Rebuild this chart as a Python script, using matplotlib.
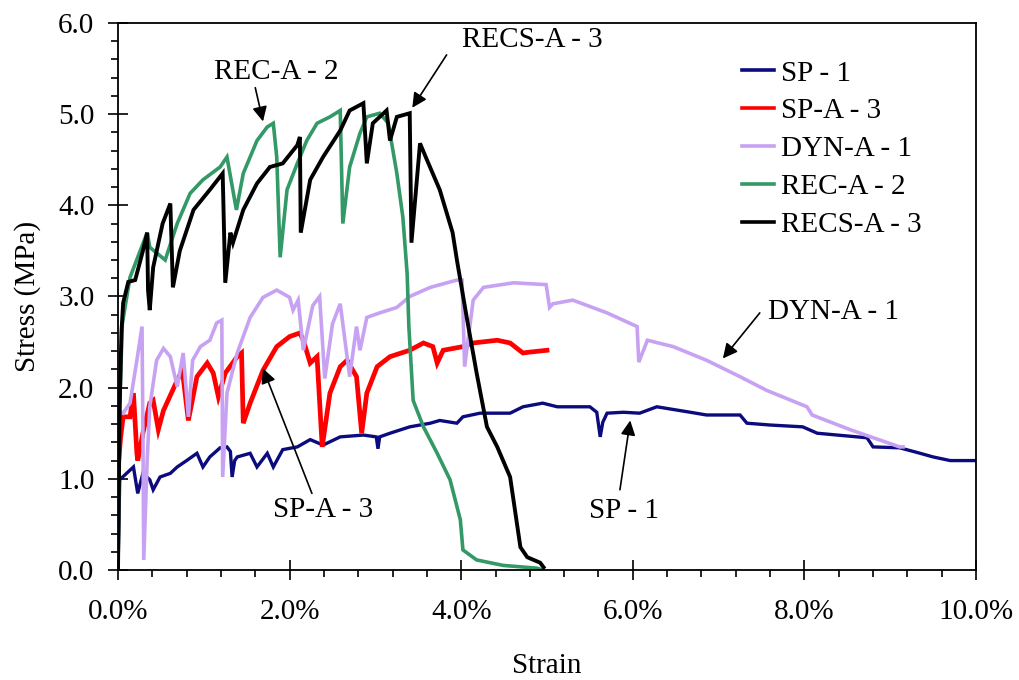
import matplotlib
matplotlib.use("Agg")
import matplotlib.pyplot as plt
from matplotlib.ticker import MultipleLocator, FuncFormatter

plt.rcParams['font.family'] = ['Liberation Serif', 'DejaVu Serif']

# ---------------- data (strain in %, stress in MPa) ----------------
sp1_x = [0, 0.02, 0.10, 0.18, 0.23, 0.29, 0.37, 0.41, 0.49, 0.61, 0.69, 0.80, 0.92, 0.99, 1.07,
         1.19, 1.27, 1.31, 1.33, 1.36, 1.39, 1.54, 1.62, 1.74, 1.81, 1.92, 2.09, 2.24, 2.39, 2.59,
         2.86, 3.01, 3.03, 3.05, 3.17, 3.40, 3.64, 3.75, 3.95, 4.02, 4.22, 4.57, 4.72, 4.95, 5.12,
         5.50, 5.58, 5.62, 5.65, 5.70, 5.89, 6.08, 6.28, 6.67, 6.86, 7.25, 7.33, 7.60, 7.98, 8.15,
         8.73, 8.80, 9.11, 9.31, 9.50, 9.70, 10.0]
sp1_y = [0, 0.99, 1.06, 1.13, 0.84, 1.06, 0.99, 0.88, 1.02, 1.06, 1.13, 1.20, 1.28, 1.13, 1.24,
         1.34, 1.35, 1.30, 1.02, 1.20, 1.24, 1.28, 1.13, 1.28, 1.13, 1.32, 1.35, 1.43, 1.37, 1.46,
         1.48, 1.46, 1.33, 1.46, 1.50, 1.57, 1.61, 1.64, 1.61, 1.68, 1.72, 1.72, 1.79, 1.83, 1.79,
         1.79, 1.73, 1.46, 1.62, 1.72, 1.73, 1.72, 1.79, 1.73, 1.70, 1.70, 1.61, 1.59, 1.57, 1.50,
         1.45, 1.35, 1.34, 1.29, 1.24, 1.20, 1.20]

spa3_x = [0, 0.03, 0.06, 0.14, 0.18, 0.22, 0.23, 0.29, 0.37, 0.41, 0.47, 0.53, 0.69, 0.75, 0.82,
          0.92, 1.04, 1.11, 1.17, 1.25, 1.39, 1.44, 1.46, 1.54, 1.69, 1.85, 2.00, 2.12, 2.16, 2.24,
          2.32, 2.38, 2.47, 2.59, 2.67, 2.78, 2.84, 2.90, 3.02, 3.17, 3.40, 3.56, 3.67, 3.72, 3.79,
          4.02, 4.14, 4.42, 4.57, 4.72, 4.80, 5.00]
spa3_y = [1.10, 1.45, 1.68, 1.68, 1.94, 1.28, 1.20, 1.50, 1.83, 1.86, 1.54, 1.75, 2.08, 2.19, 1.64,
          2.12, 2.27, 2.16, 1.90, 2.16, 2.34, 2.38, 1.61, 1.83, 2.19, 2.45, 2.56, 2.60, 2.52, 2.27,
          2.34, 1.35, 1.94, 2.23, 2.30, 2.12, 1.50, 1.94, 2.23, 2.34, 2.41, 2.49, 2.45, 2.27, 2.41,
          2.45, 2.49, 2.52, 2.49, 2.38, 2.39, 2.41]

dyn_x = [0, 0.06, 0.14, 0.22, 0.28, 0.29, 0.30, 0.34, 0.37, 0.45, 0.53, 0.61, 0.69, 0.76, 0.82,
         0.87, 0.96, 1.07, 1.15, 1.21, 1.22, 1.27, 1.39, 1.54, 1.69, 1.85, 2.00, 2.04, 2.10, 2.16,
         2.27, 2.35, 2.41, 2.50, 2.59, 2.70, 2.78, 2.82, 2.90, 3.05, 3.25, 3.40, 3.64, 3.95, 4.01,
         4.04, 4.14, 4.26, 4.61, 4.99, 5.03, 5.07, 5.30, 5.70, 6.05, 6.07, 6.17, 6.47, 6.86, 7.25,
         7.56, 8.03, 8.09, 8.53, 9.11, 9.15]
dyn_y = [1.75, 1.72, 1.83, 2.30, 2.67, 1.57, 0.11, 1.20, 1.79, 2.30, 2.43, 2.34, 2.01, 2.38, 1.68,
         2.30, 2.45, 2.52, 2.71, 2.74, 1.02, 1.94, 2.38, 2.77, 2.99, 3.07, 2.99, 2.85, 2.96, 2.41,
         2.90, 3.00, 2.10, 2.70, 2.92, 2.12, 2.67, 2.41, 2.77, 2.82, 2.88, 3.00, 3.10, 3.18, 3.18,
         2.23, 2.96, 3.10, 3.15, 3.13, 2.88, 2.92, 2.96, 2.82, 2.67, 2.28, 2.52, 2.45, 2.30, 2.12,
         1.97, 1.79, 1.70, 1.54, 1.35, 1.35]

rec_x = [0, 0.02, 0.05, 0.14, 0.34, 0.37, 0.55, 0.69, 0.84, 0.99, 1.19, 1.27, 1.38, 1.46, 1.62,
         1.74, 1.81, 1.85, 1.89, 1.97, 2.09, 2.20, 2.32, 2.47, 2.59, 2.62, 2.70, 2.82, 2.90, 3.05,
         3.15, 3.25, 3.32, 3.37, 3.39, 3.44, 3.56, 3.72, 3.87, 3.99, 4.02, 4.18, 4.49, 4.88, 4.95]
rec_y = [0, 1.80, 2.70, 3.21, 3.70, 3.54, 3.40, 3.80, 4.13, 4.28, 4.42, 4.53, 3.95, 4.35, 4.71,
         4.86, 4.90, 4.53, 3.43, 4.17, 4.46, 4.71, 4.90, 4.97, 5.04, 3.80, 4.42, 4.79, 4.97, 5.01,
         4.90, 4.35, 3.87, 3.25, 2.67, 1.86, 1.57, 1.28, 0.99, 0.55, 0.22, 0.11, 0.05, 0.02, 0.0]

recs_x = [0, 0.02, 0.04, 0.06, 0.12, 0.20, 0.29, 0.34, 0.35, 0.37, 0.41, 0.52, 0.61, 0.64, 0.72,
          0.88, 1.07, 1.22, 1.25, 1.31, 1.34, 1.46, 1.62, 1.77, 1.92, 2.09, 2.12, 2.13, 2.24, 2.39,
          2.59, 2.70, 2.86, 2.90, 2.97, 3.13, 3.17, 3.25, 3.40, 3.42, 3.52, 3.60, 3.75, 3.90, 3.95,
          4.07, 4.18, 4.30, 4.42, 4.57, 4.69, 4.77, 4.92, 4.96]
recs_y = [0, 1.80, 2.60, 2.93, 3.16, 3.18, 3.50, 3.70, 3.07, 2.85, 3.32, 3.80, 4.02, 3.10, 3.50,
          3.95, 4.17, 4.35, 3.15, 3.70, 3.59, 3.95, 4.24, 4.42, 4.46, 4.66, 4.75, 3.70, 4.28, 4.53,
          4.82, 5.04, 5.12, 4.46, 4.90, 5.04, 4.71, 4.97, 5.01, 3.59, 4.68, 4.50, 4.17, 3.70, 3.40,
          2.74, 2.16, 1.57, 1.35, 1.02, 0.25, 0.14, 0.08, 0.03]

series = [
    ("SP - 1", sp1_x, sp1_y, "#0b0b7e", 2.4),
    ("SP-A - 3", spa3_x, spa3_y, "#ff0000", 3.4),
    ("DYN-A - 1", dyn_x, dyn_y, "#c8a2f2", 2.6),
    ("REC-A - 2", rec_x, rec_y, "#339966", 2.6),
    ("RECS-A - 3", recs_x, recs_y, "#000000", 2.8),
]

# annotations: label, text centre, arrow tip (strain %, stress)
annotations = [
    ("REC-A - 2", (1.85, 5.46), (1.69, 4.92)),
    ("RECS-A - 3", (4.83, 5.81), (3.43, 5.07)),
    ("DYN-A - 1", (8.34, 2.83), (7.05, 2.32)),
    ("SP - 1", (5.90, 0.65), (5.97, 1.64)),
    ("SP-A - 3", (2.39, 0.66), (1.69, 2.21)),
]
arrow_tails = [(1.60, 5.29), (3.83, 5.65), (7.48, 2.82), (5.85, 0.88), (2.26, 0.84)]

# ---------------- figure ----------------
fig = plt.figure(figsize=(10.19, 6.80), dpi=100)
ax = fig.add_axes([0.1158, 0.1618, 0.842, 0.8044])

for name, xs, ys, col, lw in series:
    ax.plot(xs, ys, color=col, lw=lw, label=name, solid_joinstyle='miter')

ax.set_xlim(0, 10)
ax.set_ylim(0, 6)
ax.xaxis.set_major_locator(MultipleLocator(2))
ax.xaxis.set_minor_locator(MultipleLocator(0.4))
ax.yaxis.set_major_locator(MultipleLocator(1))
ax.yaxis.set_minor_locator(MultipleLocator(0.2))
ax.xaxis.set_major_formatter(FuncFormatter(lambda v, p: f"{v:.1f}%"))
ax.yaxis.set_major_formatter(FuncFormatter(lambda v, p: f"{v:.1f}"))

ax.tick_params(which='major', direction='inout', length=14, width=1.2, labelsize=21)
ax.tick_params(which='minor', direction='out', length=5, width=1.2)
ax.tick_params(axis='y', which='major', pad=10)
ax.tick_params(axis='x', which='major', pad=14)
for s in ax.spines.values():
    s.set_linewidth(1.3)

ax.set_xlabel("Strain", fontsize=21, labelpad=20)
ax.set_ylabel("Stress (MPa)", fontsize=21, labelpad=12)

for (label, txy, tip), tail in zip(annotations, arrow_tails):
    ax.text(txy[0], txy[1], label, fontsize=21, ha='center', va='center')
    ax.annotate("", xy=tip, xytext=tail,
                arrowprops=dict(arrowstyle='-|>', color='black', lw=1.2,
                                mutation_scale=22, shrinkA=0, shrinkB=0))

leg = ax.legend(loc='upper left', bbox_to_anchor=(0.727, 0.932), frameon=False,
                fontsize=21, handlelength=1.1, handletextpad=0.25, labelspacing=0.39,
                borderpad=0, borderaxespad=0)
for h in leg.get_lines():
    h.set_linewidth(2.6)

fig.savefig("out.png", dpi=100)
